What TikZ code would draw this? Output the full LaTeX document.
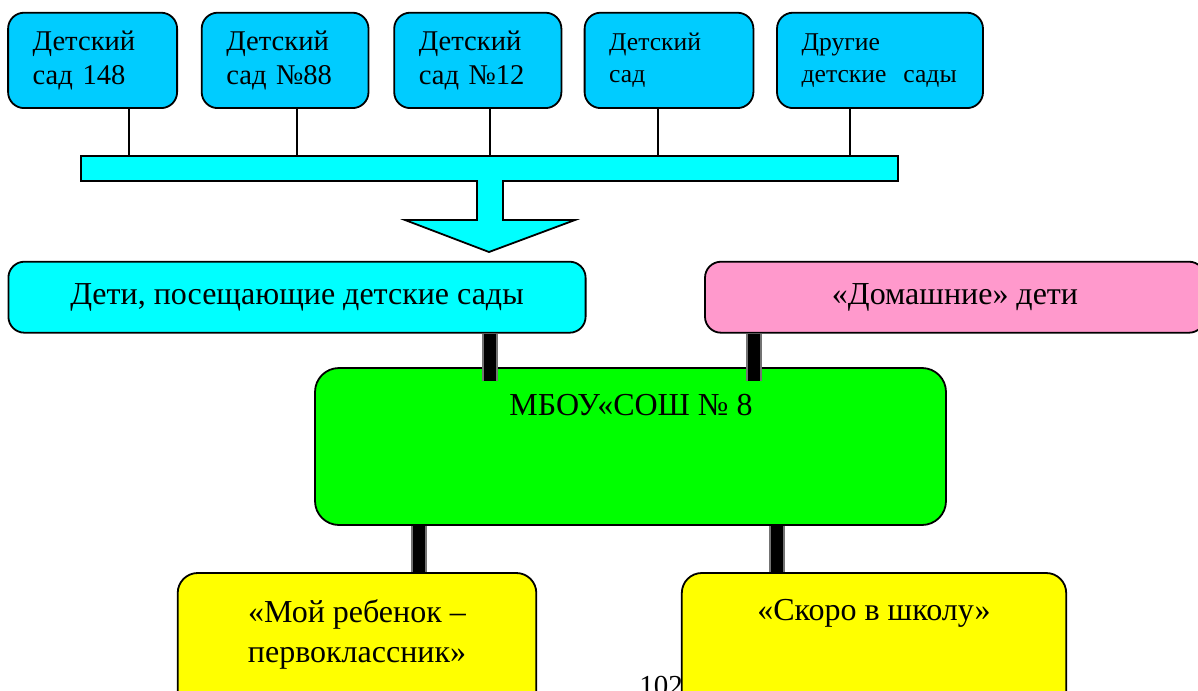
\documentclass[tikz,border=0pt]{standalone}
\usepackage{fontspec}
\setmainfont{Liberation Serif}
\definecolor{topcyan}{HTML}{00CCFF}
\definecolor{barcyan}{HTML}{00FFFF}
\definecolor{pinkbox}{HTML}{FF99CC}
\definecolor{greenbox}{HTML}{00FF00}
\definecolor{yellowbox}{HTML}{FFFF00}
\begin{document}
\begin{tikzpicture}[x=0.5pt,y=-0.5pt,
  edge/.style={draw=black, line width=0.9pt},
  topbox/.style={edge, fill=topcyan, rounded corners=8pt, inner xsep=12.3pt, inner ysep=0pt,
     minimum height=47.7pt, align=left, font=\fontsize{14.3}{16.8}\selectfont},
  smallfont/.style={font=\fontsize{12.8}{15.8}\selectfont},
  bigbox/.style={edge, rounded corners=8pt, inner sep=0pt},
  bigtext/.style={inner sep=0pt, font=\fontsize{16}{20}\selectfont, align=center},
  thin link/.style={draw=black, line width=0.9pt},
  fat link/.style={draw=black!55, line width=8pt, postaction={draw=black, line width=6pt}},
]
\useasboundingbox (0,0) rectangle (1198,690);

% top kindergartens
\node[topbox, text width=59.9pt] (b1) at (92.6,60.4) {Детский\\сад 148};
\node[topbox, text width=58.8pt] (b2) at (285.1,60.4) {Детский\\сад №88};
\node[topbox, text width=59.0pt] (b3) at (477.8,60.4) {Детский\\сад №12};
\node[topbox, smallfont, text width=59.8pt] (b4) at (669,60.4) {Детский\\сад};
\node[topbox, smallfont, text width=78.4pt] (b5) at (880,60.4) {Другие\\детские\ \ сады};

% bar with arrow
\coordinate (bartop) at (489,156);
\draw[edge, fill=barcyan] (81,156) -- (898,156) -- (898,181) -- (503,181) -- (503,220)
  -- (575,220) -- (489,252) -- (405,220) -- (477,220) -- (477,181) -- (81,181) -- cycle;

\coordinate (c1) at (129,156);
\coordinate (c2) at (297,156);
\coordinate (c3) at (490,156);
\coordinate (c4) at (657.6,156);
\coordinate (c5) at (850,156);
\draw[thin link] (c1) -- (c1 |- b1.south);
\draw[thin link] (c2) -- (c2 |- b2.south);
\draw[thin link] (c3) -- (c3 |- b3.south);
\draw[thin link] (c4) -- (c4 |- b4.south);
\draw[thin link] (c5) -- (c5 |- b5.south);

% page number (partly hidden)
\node[anchor=north west, inner sep=0pt, font=\fontsize{14.5}{16}\selectfont] (pg) at (639,676) {102};

% middle row
\node[bigbox, fill=barcyan, minimum width=288.6pt, minimum height=35.5pt] (kids) at (297,297.2) {};
\node[bigtext] (kidst) at (297,297.5) {Дети, посещающие детские сады};
\node[bigbox, fill=pinkbox, minimum width=250pt, minimum height=35.5pt] (home) at (955,297.2) {};
\node[bigtext] (homet) at (955,297.5) {«Домашние» дети};

% school
\node[bigbox, fill=greenbox, rounded corners=12pt, minimum width=315.5pt, minimum height=78.5pt] (school) at (630.5,446.5) {};
\node[bigtext] (schoolt) at (631,405) {МБОУ«СОШ № 8};

\coordinate (k1) at (489.5,0);
\coordinate (k2) at (753.5,0);
\draw[fat link] (k1 |- kids.south) -- ([yshift=-7pt]k1 |- school.north);
\draw[fat link] (k2 |- home.south) -- ([yshift=-7pt]k2 |- school.north);

% bottom boxes
\node[bigbox, fill=yellowbox, rounded corners=10pt, minimum width=179.3pt, minimum height=80pt] (p1) at (357,653) {};
\node[bigtext] (p1t) at (357,634) {«Мой ребенок –\\первоклассник»};
\node[bigbox, fill=yellowbox, rounded corners=10pt, minimum width=192.2pt, minimum height=80pt] (p2) at (874,653) {};
\node[bigtext] (p2t) at (874,613) {«Скоро в школу»};

\coordinate (m1) at (418.5,0);
\coordinate (m2) at (777,0);
\draw[fat link] (m1 |- school.south) -- (m1 |- p1.north);
\draw[fat link] (m2 |- school.south) -- (m2 |- p2.north);
\end{tikzpicture}
\end{document}
